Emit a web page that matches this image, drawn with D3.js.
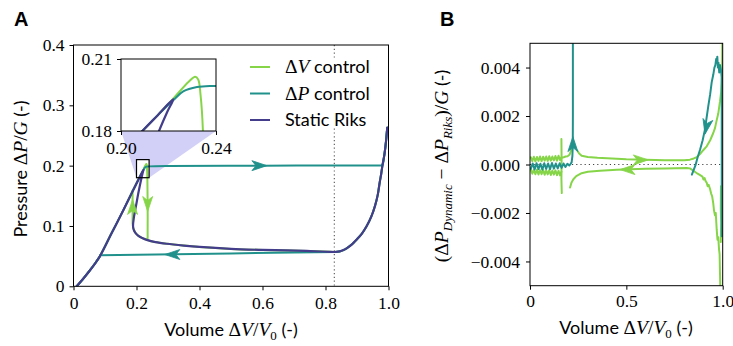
<!DOCTYPE html>
<html><head><meta charset="utf-8">
<script src="https://cdn.jsdelivr.net/npm/d3@7"></script>
<style>body{margin:0;background:#fff}svg{display:block}</style>
</head><body>
<svg id="c" width="733" height="346"></svg>
<script>
// ---------------- DATA ----------------
// Panel A ticks
const aXTicks = [0, 0.2, 0.4, 0.6, 0.8, 1.0];
const aXLabels = ["0", "0.2", "0.4", "0.6", "0.8", "1.0"];
const aYTicks = [0, 0.1, 0.2, 0.3, 0.4];
const aYLabels = ["0", "0.1", "0.2", "0.3", "0.4"];
const inXTicks = [0.20, 0.24], inXLabels = ["0.20", "0.24"];
const inYTicks = [0.18, 0.21], inYLabels = ["0.18", "0.21"];
// Panel B ticks
const bXTicks = [0, 0.5, 1.0], bXLabels = ["0", "0.5", "1.0"];
const bYTicks = [-0.004, -0.002, 0, 0.002, 0.004];
const bYLabels = ["\u22120.004", "\u22120.002", "0.000", "0.002", "0.004"];

// Static Riks: common loading branch
const loadV = [0.010, 0.030, 0.050, 0.070, 0.084, 0.120, 0.160, 0.190, 0.209];
const loadP = [0.000, 0.012, 0.025, 0.039, 0.050, 0.087, 0.128, 0.160, 0.180];
// Riks peak + unstable branch + lower branch + stiff branch
const riksV = [0.2155, 0.2220, 0.2195, 0.2160, 0.206, 0.198, 0.192, 0.189, 0.191, 0.196, 0.205, 0.218, 0.235, 0.260, 0.296, 0.350, 0.400, 0.500, 0.600, 0.680, 0.740, 0.790, 0.815, 0.830, 0.845, 0.857, 0.867, 0.885, 0.898, 0.915, 0.930, 0.945, 0.957, 0.966, 0.972, 0.977, 0.981, 0.985, 0.988, 0.992, 0.996];
const riksP = [0.1866, 0.1932, 0.1880, 0.1800, 0.155, 0.132, 0.115, 0.100, 0.094, 0.089, 0.084, 0.080, 0.0765, 0.0733, 0.0705, 0.0675, 0.0652, 0.0620, 0.0603, 0.0594, 0.0586, 0.0577, 0.0571, 0.0569, 0.0578, 0.0600, 0.0630, 0.0700, 0.0770, 0.0870, 0.0990, 0.1150, 0.1330, 0.1520, 0.1720, 0.1870, 0.2010, 0.2120, 0.2220, 0.2400, 0.2630];
// dV control: overshoot + drop, then joins lower branch (from riks index 13)
const dvPeakV = [0.2155, 0.2220, 0.2285, 0.2312, 0.2325, 0.2335, 0.2345, 0.2355, 0.2355, 0.2360];
const dvPeakP = [0.1866, 0.1935, 0.2005, 0.2026, 0.2015, 0.1950, 0.1800, 0.1200, 0.0820, 0.0770];
// dV control: snap back up to loading branch on unloading
const dvSnapV = [0.235, 0.218, 0.205, 0.196, 0.190, 0.1875, 0.1875];
const dvSnapP = [0.0765, 0.080, 0.084, 0.089, 0.096, 0.104, 0.159];
// dP control: plateau at the limit pressure
const dpPeakV = [0.2155, 0.2220, 0.2262, 0.2320, 0.2400, 0.3000, 0.6000, 0.9000, 0.9600, 0.9750, 0.9810];
const dpPeakP = [0.1866, 0.1928, 0.1965, 0.1983, 0.1988, 0.1995, 0.2000, 0.2002, 0.2003, 0.2004, 0.2010];
// dP control: snap back at the minimum pressure
const dpSnapV = [0.830, 0.500, 0.084];
const dpSnapP = [0.0569, 0.0545, 0.0515];

// Panel B: difference to Riks (dV control, green)
const gUpBandV = [0.004, 0.012, 0.020, 0.028, 0.036, 0.044, 0.052, 0.060, 0.068, 0.076, 0.084, 0.092, 0.100, 0.108, 0.116, 0.124, 0.132, 0.140, 0.148, 0.156, 0.163];
const gUpBandD = [0.00030, 0.00014, 0.00032, 0.00013, 0.00031, 0.00015, 0.00033, 0.00014, 0.00032, 0.00016, 0.00033, 0.00015, 0.00034, 0.00016, 0.00033, 0.00017, 0.00035, 0.00016, 0.00036, 0.00018, 0.00030];
const gLoBandD = [-0.00020, -0.00038, -0.00022, -0.00040, -0.00021, -0.00041, -0.00023, -0.00040, -0.00022, -0.00042, -0.00024, -0.00041, -0.00023, -0.00043, -0.00025, -0.00042, -0.00024, -0.00044, -0.00026, -0.00045, -0.00030];
const gSpikeV = [0.163, 0.164, 0.163, 0.165];
const gSpikeD = [0.00105, 0.00020, -0.00060, -0.00118];
const gPreV = [0.165, 0.175, 0.185, 0.195, 0.205, 0.212, 0.218];
const gPreD = [0.00028, 0.00030, 0.00033, 0.00034, 0.00040, 0.00055, 0.00080];
const gUpV = [0.245, 0.255, 0.268, 0.300, 0.350, 0.400, 0.500, 0.600, 0.700, 0.800, 0.830, 0.850, 0.865, 0.882, 0.900, 0.917, 0.935, 0.951, 0.960, 0.968, 0.977, 0.986, 0.992, 0.995, 0.997, 0.998];
const gUpD = [0.00058, 0.00045, 0.00036, 0.00031, 0.00028, 0.00026, 0.00022, 0.00020, 0.00018, 0.00018, 0.00020, 0.00025, 0.00030, 0.00043, 0.00060, 0.00075, 0.00100, 0.00130, 0.00150, 0.00180, 0.00210, 0.00260, 0.00300, 0.00340, 0.00400, 0.00520];
const gLoV = [0.208, 0.215, 0.225, 0.240, 0.268, 0.300, 0.363, 0.450, 0.520, 0.600, 0.700, 0.813, 0.830, 0.848, 0.870, 0.885, 0.895, 0.900, 0.906, 0.912, 0.917, 0.922, 0.927, 0.934, 0.940, 0.945, 0.951, 0.955, 0.960, 0.964, 0.969, 0.973, 0.977, 0.981, 0.984, 0.986, 0.988];
const gLoD = [-0.00095, -0.00075, -0.00061, -0.00048, -0.00036, -0.00030, -0.00026, -0.00022, -0.00020, -0.00018, -0.00016, -0.00014, -0.00016, -0.00026, -0.00038, -0.00045, -0.00050, -0.00062, -0.00056, -0.00070, -0.00075, -0.00090, -0.00084, -0.00100, -0.00120, -0.00130, -0.00160, -0.00190, -0.00210, -0.00200, -0.00270, -0.00310, -0.00300, -0.00350, -0.00370, -0.00450, -0.00520];
const gTailV = [0.991, 0.990, 0.992, 0.990];
const gTailD = [-0.00090, -0.00180, -0.00240, -0.00320];
// Panel B: dP control (teal)
const tBandV = [0.004, 0.014, 0.024, 0.034, 0.044, 0.054, 0.064, 0.074, 0.084, 0.094, 0.104, 0.114, 0.124, 0.134, 0.144, 0.154, 0.164, 0.174, 0.184, 0.194, 0.204, 0.210, 0.216, 0.220, 0.222, 0.2225, 0.2225];
const tBandD = [-0.00018, 0.00004, -0.00020, 0.00005, -0.00019, 0.00003, -0.00021, 0.00005, -0.00018, 0.00004, -0.00019, 0.00006, -0.00017, 0.00004, -0.00016, 0.00005, -0.00014, 0.00004, -0.00010, 0.00003, -0.00004, 0.00002, 0.00009, 0.00035, 0.00080, 0.00200, 0.00550];
const tRightV = [0.995, 0.995, 0.991, 0.986, 0.982, 0.978, 0.975, 0.972, 0.969, 0.966, 0.962, 0.957, 0.951, 0.943, 0.935, 0.925, 0.916, 0.908, 0.896, 0.882, 0.870, 0.858, 0.848, 0.840];
const tRightD = [-0.00296, 0.00360, 0.00390, 0.00410, 0.00380, 0.00420, 0.00400, 0.00445, 0.00420, 0.00435, 0.00410, 0.00400, 0.00370, 0.00340, 0.00290, 0.00240, 0.00190, 0.00145, 0.00100, 0.00060, 0.00030, -0.00005, -0.00025, -0.00042];

// arrows: x, y (tip), direction dx, dy (data units)
const arrowsA = [
  {s: "dp", x: 0.614, y: 0.2, dx: 1, dy: 0},
  {s: "dp", x: 0.290, y: 0.0527, dx: -1, dy: 0},
  {s: "dv", x: 0.2355, y: 0.124, dx: 0, dy: -1},
  {s: "dv", x: 0.1875, y: 0.144, dx: 0, dy: 1}
];
const arrowsB = [
  {s: "dv", x: 0.614, y: 0.00019, dx: 1, dy: 0},
  {s: "dv", x: 0.467, y: -0.00021, dx: -1, dy: 0},
  {s: "dp", x: 0.2225, y: 0.00115, dx: 0, dy: 1},
  {s: "dp", x: 0.908, y: 0.00125, dx: -0.03, dy: -0.0012}
];
const legendNames = ["dv", "dp", "riks"];

// ---------------- STYLE ----------------
const COL = {dv: "#86d549", dp: "#21918c", riks: "#433d8b"};
const SERIF = "'Liberation Serif', 'DejaVu Serif', serif";
const SANS = "Lato, 'Open Sans', sans-serif";
const TICK_FS = 17.5, SANS_FS = 18, MATH_FS = 19.5, SUB_FS = 13;

const svg = d3.select("#c");
const zip = (a, b) => a.map((v, i) => [v, b[i]]);

// scales
const xA = d3.scaleLinear([0, 1], [73.5, 388.5]);
const yA = d3.scaleLinear([0, 0.4], [286.3, 45]);
const xI = d3.scaleLinear([0.2, 0.24], [121, 216]);
const yI = d3.scaleLinear([0.18, 0.21], [131, 59]);
const xB = d3.scaleLinear([0, 1], [530, 722.7]);
const yB = d3.scaleLinear([-0.005, 0.005], [285.7, 43.3]);

// composite series
const riksPts = zip(loadV, loadP).concat(zip(riksV, riksP));
const dvMain = zip(loadV, loadP).concat(zip(dvPeakV, dvPeakP)).concat(zip(riksV.slice(13), riksP.slice(13)));
const dvRet = zip(dvSnapV, dvSnapP);
const dpLoad = zip(loadV, loadP).concat(zip(dpPeakV, dpPeakP)).concat(zip(riksV.slice(-4), riksP.slice(-4)));
const iMin = riksV.indexOf(0.830);
const dpUnload = zip(riksV.slice(iMin), riksP.slice(iMin)).reverse();
const dpLeft = zip(loadV.slice(0, 5), loadP.slice(0, 5));

// helpers
function rich(sel, parts) {
  let shift = 0;
  parts.forEach(([t, st]) => {
    const ts = sel.append("tspan").text(t);
    if (st === "s") ts.attr("font-family", SANS).attr("font-size", SANS_FS);
    else {
      ts.attr("font-family", SERIF);
      const sub = st.startsWith("sub");
      ts.attr("font-size", sub ? SUB_FS : MATH_FS);
      if (st === "i" || st === "subi") ts.attr("font-style", "italic");
      if (sub && shift === 0) { ts.attr("dy", 4); shift = 4; }
      else if (!sub && shift) { ts.attr("dy", -shift); shift = 0; }
      return;
    }
    if (shift) { ts.attr("dy", -shift); shift = 0; }
  });
}
function drawArrow(g, a, sx, sy) {
  const px = sx(a.x), py = sy(a.y);
  const ddx = sx(a.x + a.dx * 1e-3) - sx(a.x), ddy = sy(a.y + a.dy * 1e-3) - sy(a.y);
  const ang = Math.atan2(ddy, ddx) * 180 / Math.PI;
  g.append("path").attr("d", "M0,0 L-15,-5 L-11,0 L-15,5 Z")
    .attr("transform", `translate(${px},${py}) rotate(${ang})`)
    .attr("fill", COL[a.s]).attr("stroke", COL[a.s]).attr("stroke-width", 0.8).attr("stroke-linejoin", "miter");
}
function styleAxis(g) {
  g.select(".domain").remove();
  g.attr("font-family", null).attr("font-size", null);
  g.selectAll("text").attr("font-family", SERIF).attr("font-size", TICK_FS).attr("fill", "#000");
  g.selectAll("line").attr("stroke", "#000");
}
function frame(g, sx, sy) {
  const [x0, x1] = sx.range(), [y0, y1] = sy.range();
  g.append("rect").attr("x", x0).attr("y", y1).attr("width", x1 - x0).attr("height", y0 - y1)
    .attr("fill", "none").attr("stroke", "#000").attr("stroke-width", 1);
}

// ---------------- PANEL A ----------------
const defs = svg.append("defs");
defs.append("clipPath").attr("id", "clipA").append("rect")
  .attr("x", 73.5).attr("y", 45).attr("width", 315).attr("height", 241.3);
defs.append("clipPath").attr("id", "clipI").append("rect")
  .attr("x", 121).attr("y", 59).attr("width", 95).attr("height", 72);
defs.append("clipPath").attr("id", "clipB").append("rect")
  .attr("x", 530).attr("y", 43.3).attr("width", 192.7).attr("height", 242.4);
const gA = svg.append("g");

// zoom connector shade
gA.append("path").attr("d", d3.line()([
  [xI(0.20), yI(0.18)], [xI(0.24), yI(0.18)], [xA(0.24), yA(0.18)], [xA(0.20), yA(0.18)]
])).attr("fill", "#d2d0f6").attr("stroke", "none");
gA.append("rect").attr("x", xA(0.2)).attr("y", yA(0.21)).attr("width", xA(0.24) - xA(0.2))
  .attr("height", yA(0.18) - yA(0.21)).attr("fill", "#fff");

// dotted vertical line
gA.append("line").attr("x1", xA(0.828)).attr("x2", xA(0.828)).attr("y1", yA(0.4)).attr("y2", yA(0))
  .attr("stroke", "#555").attr("stroke-width", 1.1).attr("stroke-dasharray", "1.2,2.6");

function drawCurves(g, sx, sy, clip) {
  const lc = d3.line().x(d => sx(d[0])).y(d => sy(d[1])).curve(d3.curveCatmullRom.alpha(0.5));
  const ll = d3.line().x(d => sx(d[0])).y(d => sy(d[1]));
  const cg = g.append("g").attr("clip-path", `url(#${clip})`).attr("fill", "none")
    .attr("stroke-linejoin", "round").attr("stroke-linecap", "round");
  cg.append("path").attr("d", lc(dvMain)).attr("stroke", COL.dv).attr("stroke-width", 2);
  cg.append("path").attr("d", ll(dvRet)).attr("stroke", COL.dv).attr("stroke-width", 2);
  cg.append("path").attr("d", lc(dpLoad)).attr("stroke", COL.dp).attr("stroke-width", 2);
  cg.append("path").attr("d", lc(dpUnload)).attr("stroke", COL.dp).attr("stroke-width", 2);
  cg.append("path").attr("d", ll(zip(dpSnapV, dpSnapP))).attr("stroke", COL.dp).attr("stroke-width", 2);
  cg.append("path").attr("d", lc(dpLeft)).attr("stroke", COL.dp).attr("stroke-width", 2);
  cg.append("path").attr("d", lc(riksPts)).attr("stroke", COL.riks).attr("stroke-width", 2.2);
}
drawCurves(gA, xA, yA, "clipA");
arrowsA.forEach(a => drawArrow(gA, a, xA, yA));

// zoom box
gA.append("rect").attr("x", xA(0.2)).attr("y", yA(0.21)).attr("width", xA(0.24) - xA(0.2))
  .attr("height", yA(0.18) - yA(0.21)).attr("fill", "none").attr("stroke", "#000").attr("stroke-width", 1.2);

frame(gA, xA, yA);
gA.append("g").attr("transform", `translate(0,${yA(0)})`)
  .call(d3.axisBottom(xA).tickValues(aXTicks).tickFormat((d, i) => aXLabels[i]).tickSize(4).tickSizeOuter(0).tickPadding(6))
  .call(styleAxis);
gA.append("g").attr("transform", `translate(${xA(0)},0)`)
  .call(d3.axisLeft(yA).tickValues(aYTicks).tickFormat((d, i) => aYLabels[i]).tickSize(4).tickSizeOuter(0).tickPadding(5))
  .call(styleAxis);

// inset
const gI = svg.append("g");
gI.append("rect").attr("x", 121).attr("y", 59).attr("width", 95).attr("height", 72).attr("fill", "#fff");
drawCurves(gI, xI, yI, "clipI");
frame(gI, xI, yI);
gI.append("g").attr("transform", `translate(0,${yI(0.18)})`)
  .call(d3.axisBottom(xI).tickValues(inXTicks).tickFormat((d, i) => inXLabels[i]).tickSize(4).tickSizeOuter(0).tickPadding(7))
  .call(styleAxis);
gI.append("g").attr("transform", `translate(${xI(0.2)},0)`)
  .call(d3.axisLeft(yI).tickValues(inYTicks).tickFormat((d, i) => inYLabels[i]).tickSize(4).tickSizeOuter(0).tickPadding(5))
  .call(styleAxis);

// legend
const gL = svg.append("g");
gL.append("rect").attr("x", 244).attr("y", 58).attr("width", 128).attr("height", 70).attr("fill", "#fff");
const legY = [67, 93.5, 120];
const legParts = {
  dv: [["\u0394", "m"], ["V", "i"], [" control", "s"]],
  dp: [["\u0394", "m"], ["P", "i"], [" control", "s"]],
  riks: [["Static Riks", "s"]]
};
legendNames.forEach((k, i) => {
  gL.append("line").attr("x1", 250).attr("x2", 270).attr("y1", legY[i]).attr("y2", legY[i])
    .attr("stroke", COL[k]).attr("stroke-width", 2);
  const t = gL.append("text").attr("x", 285).attr("y", legY[i] + 6);
  rich(t, legParts[k]);
});

// labels A
rich(svg.append("text").attr("x", 231).attr("y", 336).attr("text-anchor", "middle"),
  [["Volume ", "s"], ["\u0394", "m"], ["V", "i"], ["/", "m"], ["V", "i"], ["0", "sub"], [" (-)", "s"]]);
rich(svg.append("text").attr("transform", "translate(27,169) rotate(-90)").attr("text-anchor", "middle"),
  [["Pressure ", "s"], ["\u0394", "m"], ["P", "i"], ["/", "m"], ["G", "i"], [" (-)", "s"]]);
svg.append("text").attr("x", 14).attr("y", 26).text("A")
  .attr("font-family", "'Liberation Sans', Arial, sans-serif").attr("font-weight", "bold").attr("font-size", 20);

// ---------------- PANEL B ----------------
const gB = svg.append("g");
gB.append("line").attr("x1", xB(0)).attr("x2", xB(1)).attr("y1", yB(0)).attr("y2", yB(0))
  .attr("stroke", "#444").attr("stroke-width", 1.1).attr("stroke-dasharray", "1.2,3");
const lb = d3.line().x(d => xB(d[0])).y(d => yB(d[1]));
const cB = gB.append("g").attr("clip-path", "url(#clipB)").attr("fill", "none")
  .attr("stroke-width", 2).attr("stroke-linejoin", "round").attr("stroke-linecap", "round");
[
  ["dv", zip(gUpBandV, gUpBandD)], ["dv", zip(gUpBandV, gLoBandD)], ["dv", zip(gSpikeV, gSpikeD)],
  ["dv", zip(gPreV, gPreD)], ["dv", zip(gUpV, gUpD)], ["dv", zip(gLoV, gLoD)], ["dv", zip(gTailV, gTailD)],
  ["dp", zip(tBandV, tBandD)], ["dp", zip(tRightV, tRightD)]
].forEach(([k, pts]) => cB.append("path").attr("d", lb(pts)).attr("stroke", COL[k]));
arrowsB.forEach(a => drawArrow(gB, a, xB, yB));
frame(gB, xB, yB);
gB.append("g").attr("transform", `translate(0,${yB(-0.005)})`)
  .call(d3.axisBottom(xB).tickValues(bXTicks).tickFormat((d, i) => bXLabels[i]).tickSize(4).tickSizeOuter(0).tickPadding(5))
  .call(styleAxis);
gB.append("g").attr("transform", `translate(${xB(0)},0)`)
  .call(d3.axisLeft(yB).tickValues(bYTicks).tickFormat((d, i) => bYLabels[i]).tickSize(4).tickSizeOuter(0).tickPadding(6))
  .call(styleAxis);

rich(svg.append("text").attr("x", 626).attr("y", 334).attr("text-anchor", "middle"),
  [["Volume ", "s"], ["\u0394", "m"], ["V", "i"], ["/", "m"], ["V", "i"], ["0", "sub"], [" (-)", "s"]]);
rich(svg.append("text").attr("transform", "translate(448,166) rotate(-90)").attr("text-anchor", "middle"),
  [["(\u0394", "m"], ["P", "i"], ["Dynamic", "subi"], [" \u2212 \u0394", "m"], ["P", "i"], ["Riks", "subi"], [")/", "m"], ["G", "i"], [" (-)", "s"]]);
svg.append("text").attr("x", 440).attr("y", 26).text("B")
  .attr("font-family", "'Liberation Sans', Arial, sans-serif").attr("font-weight", "bold").attr("font-size", 20);
</script>
</body></html>
